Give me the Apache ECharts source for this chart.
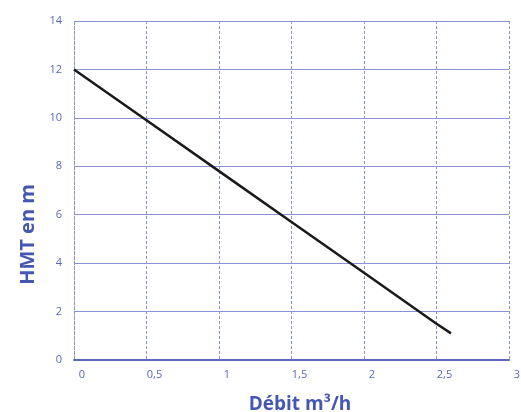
<!DOCTYPE html>
<html><head><meta charset="utf-8">
<script src="https://cdn.jsdelivr.net/npm/echarts@6/dist/echarts.min.js"></script>
<style>html,body{margin:0;padding:0;background:#fff}#c{width:521px;height:412px}</style>
</head><body><div id="c"></div>
<script>
const debit = [0, 0.5, 1, 1.5, 2, 2.5, 2.6];
const hmt = [12, 9.9, 7.8, 5.7, 3.6, 1.5, 1.1];
const xTickLabels = {0:'0',0.5:'0,5',1:'1',1.5:'1,5',2:'2',2.5:'2,5',3:'3'};
const xName = 'Débit m³/h';
const yName = 'HMT en m';

const chart = echarts.init(document.getElementById('c'));
const labelColor = '#5a68bd';
const gridColor = '#8a93d6';
chart.setOption({
  animation:false,
  grid:{left:74,right:12,top:21,bottom:52,containLabel:false,outerBoundsMode:'none'},
  xAxis:{type:'value',min:0,max:3,interval:0.5,
    name:xName,nameLocation:'middle',nameGap:35,
    nameTextStyle:{color:'#4657b3',fontSize:19,fontWeight:'bold',fontFamily:'Open Sans',padding:[0,0,0,17]},
    axisLine:{show:true,lineStyle:{color:'#5a68c4',width:2}},
    axisTick:{show:false},
    axisLabel:{color:labelColor,fontSize:11,fontFamily:'Open Sans',margin:9,padding:[0,0,0,16],
      formatter:v=>xTickLabels[v]!==undefined?xTickLabels[v]:String(v).replace('.',',')},
    splitLine:{show:true,lineStyle:{color:gridColor,type:[3,2],width:1}}
  },
  yAxis:{type:'value',min:0,max:14,interval:2,
    name:yName,nameLocation:'middle',nameGap:36,nameRotate:90,
    nameTextStyle:{color:'#4657b3',fontSize:20,fontWeight:'bold',fontFamily:'Open Sans',padding:[0,88,0,0]},
    axisLine:{show:true,lineStyle:{color:gridColor,type:[3,2]}},
    axisTick:{show:false},
    axisLabel:{color:labelColor,fontSize:11,fontFamily:'Open Sans',margin:12,padding:[0,0,14,0]},
    splitLine:{show:true,lineStyle:{color:gridColor,width:1}}
  },
  series:[{type:'line',data:debit.map((d,i)=>[d,hmt[i]]),symbol:'none',
    lineStyle:{color:'#1a1a1a',width:2.5}}]
});
</script></body></html>
